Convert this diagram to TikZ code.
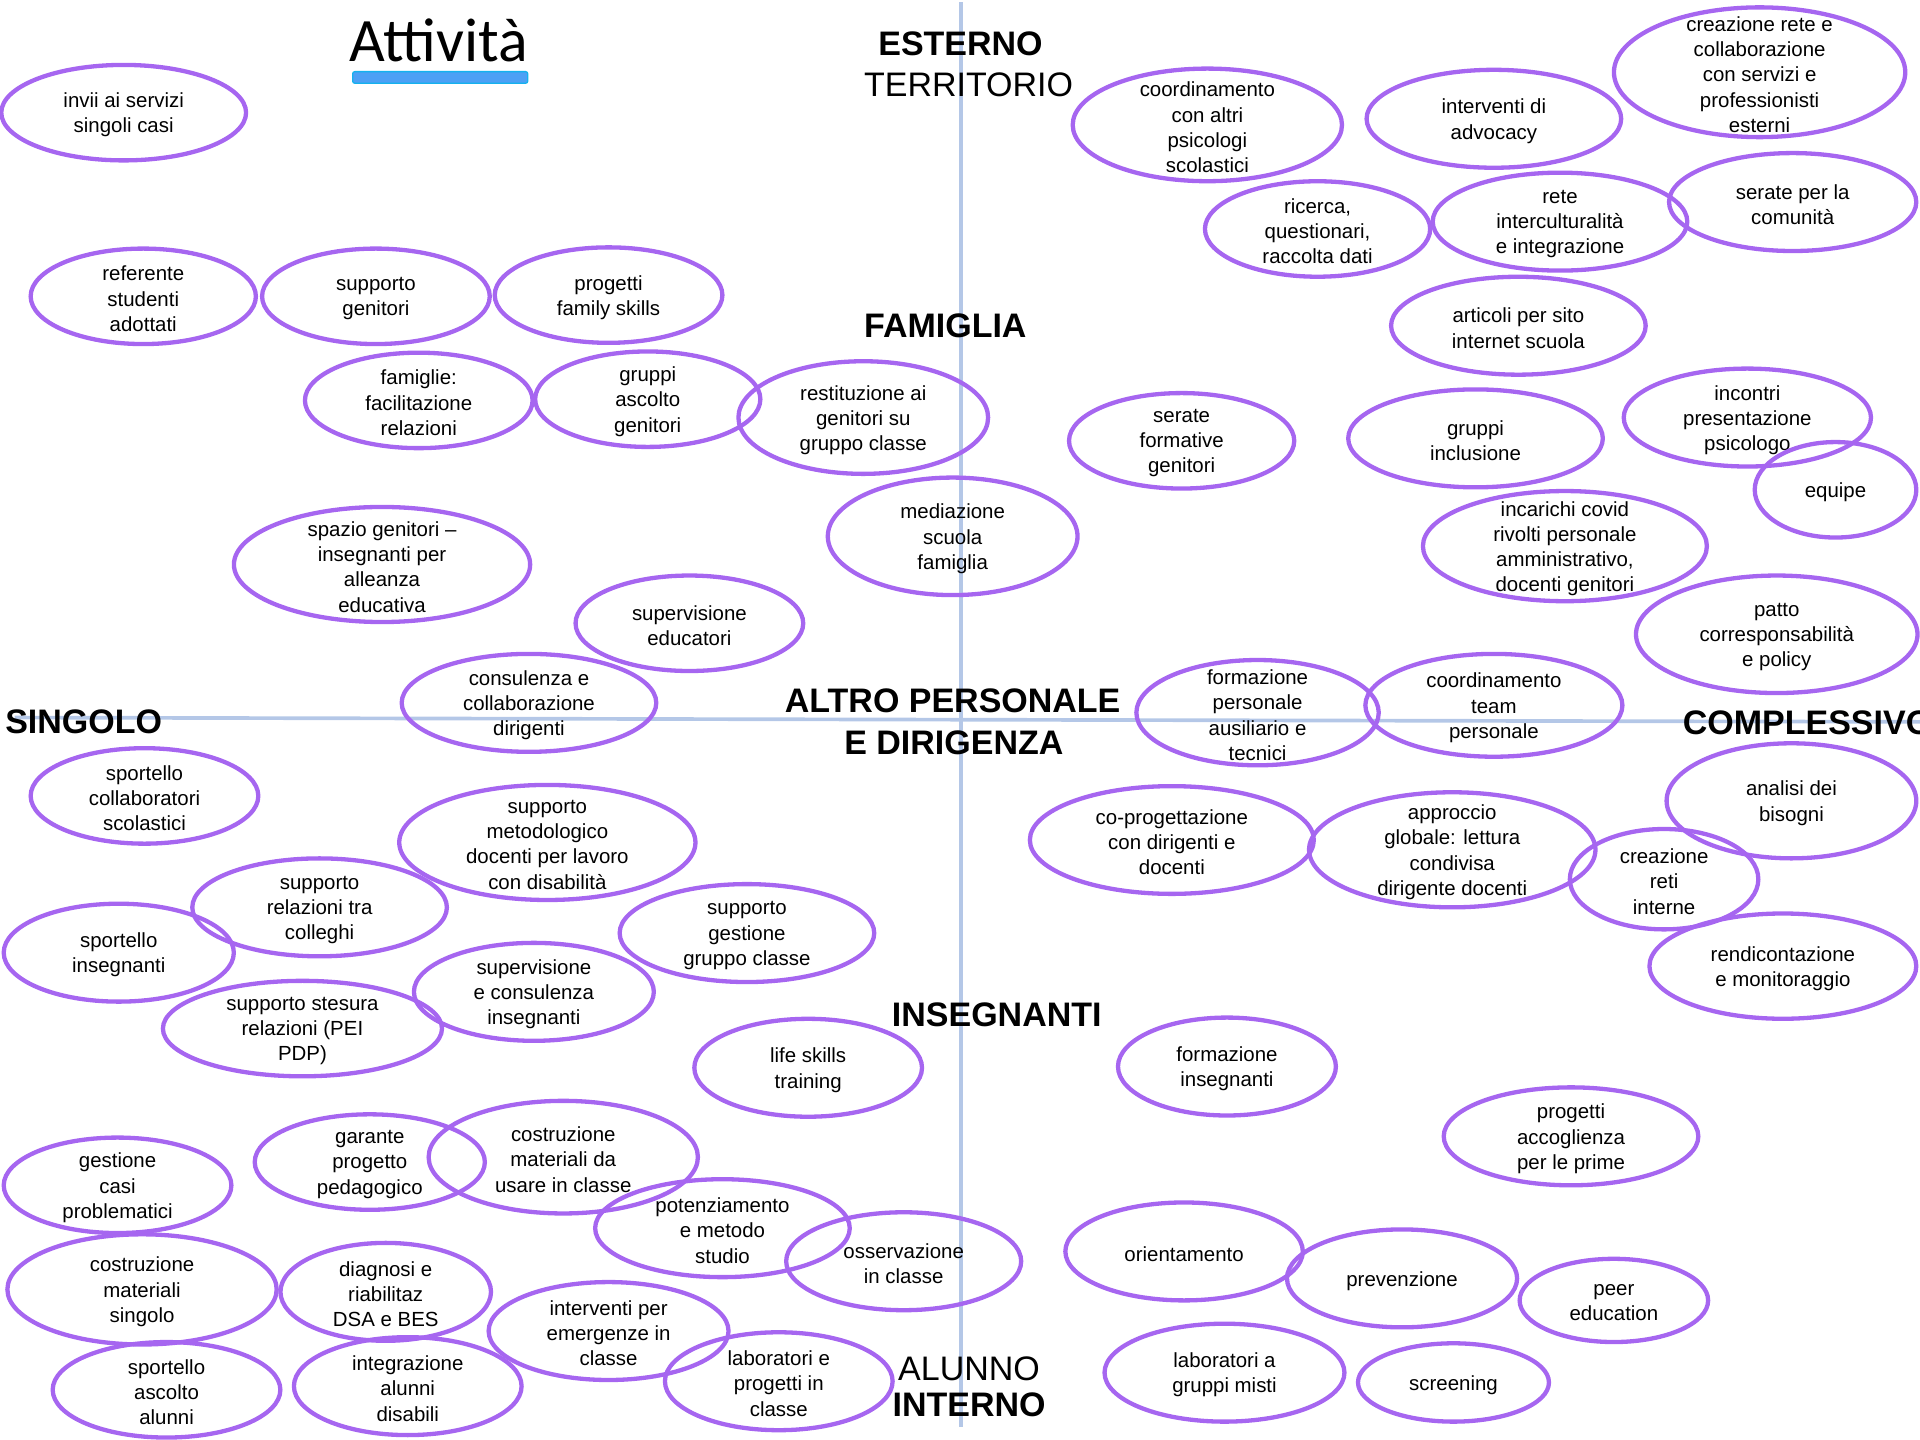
\documentclass[tikz,border=0pt]{standalone}
\usepackage{fontspec}
\setmainfont{Liberation Sans}
\newfontfamily\titlefont{Carlito}
\usetikzlibrary{shapes.geometric}
\definecolor{ellc}{RGB}{166,102,240}
\definecolor{axisc}{RGB}{180,199,231}
\definecolor{barfill}{RGB}{77,160,245}
\definecolor{barline}{RGB}{20,178,238}
\tikzset{
  ell/.style={draw=ellc, line width=2pt, ellipse, inner sep=0pt},
  lbl/.style={align=center, font=\fontsize{9.5}{11.7}\selectfont, inner sep=0pt},
  hdr/.style={font=\fontsize{15.8}{19}\selectfont\bfseries, inner sep=0pt, anchor=base},
  hdrr/.style={font=\fontsize{15.8}{19}\selectfont, inner sep=0pt, anchor=base},
  axisline/.style={draw=axisc, line width=0.06cm}
}
\newcommand\Ell[6]{%
  \node[ell, minimum width=#4*0.04cm, minimum height=#5*0.04cm] (#1) at (#2,#3) {};
  \node[lbl] (#1t) at ([yshift=-0.04cm]#1.center) {#6};}
\begin{document}
\begin{tikzpicture}[x=0.02cm, y=-0.02cm]
\useasboundingbox (0,0) rectangle (1568,1176);
\clip (0,0) rectangle (1568,1176);
% axes
\coordinate (vt) at (785,2);
\coordinate (vb) at (785,1165);
\coordinate (hl) at (12,586);
\coordinate (hr) at (1568,589.5);
\draw[axisline] (vt) -- (vb);
\draw[axisline] (hl) -- (hr);
% title
\node[font=\titlefont\fontsize{28.7}{34}\selectfont, anchor=base, inner sep=0pt] (title) at (358,50.5) {Attività};
\node[draw=barline, fill=barfill, rounded corners=1pt, line width=0.6pt, inner sep=0pt,
      minimum width=143*0.02cm, minimum height=9.5*0.02cm] (bar) at (359.5,63.25) {};
% headers
\node[hdr] (esterno) at (784.4,45) {ESTERNO};
\node[hdrr] (territorio) at (791,79) {TERRITORIO};
\node[hdr] (famiglia) at (772,276) {FAMIGLIA};
\node[hdr] (altro) at (778,582) {ALTRO PERSONALE};
\node[hdr] (edir) at (779,616.5) {E DIRIGENZA};
\node[hdr, anchor=base west] (singolo) at (4,599) {SINGOLO};
\node[hdr, anchor=base west] (compl) at (1374,600) {COMPLESSIVO};
\node[hdr] (insegn) at (814,838) {INSEGNANTI};
\node[hdrr] (alunno) at (791.4,1127.5) {ALUNNO};
\node[hdr] (interno) at (791.4,1157) {INTERNO};
% ellipses
\Ell{e1}{101}{92}{100}{39}{invii ai servizi\\singoli casi}
\Ell{e2}{117}{242}{92}{39}{referente\\studenti\\adottati}
\Ell{e3}{307}{242}{93}{39}{supporto\\genitori}
\Ell{e4}{497}{241}{93}{39}{progetti\\family skills}
\Ell{e5}{342}{327}{93}{39}{famiglie:\\facilitazione\\relazioni}
\Ell{e6}{529}{326}{92}{39}{gruppi\\ascolto\\genitori}
\Ell{e7}{705}{341}{102}{46}{restituzione ai\\genitori su\\gruppo classe}
\Ell{e8}{312}{461}{121}{47}{spazio genitori –\\insegnanti per\\alleanza\\educativa}
\Ell{e9}{778}{438}{102}{48}{mediazione\\scuola\\famiglia}
\Ell{e10}{563}{509}{93}{39}{supervisione\\educatori}
\Ell{e11}{432}{574}{104}{40}{consulenza e\\collaborazione\\dirigenti}
\Ell{e12}{986}{102}{110}{46}{coordinamento\\con altri\\psicologi\\scolastici}
\Ell{e13}{1220}{97}{104}{40}{interventi di\\advocacy}
\Ell{e14}{1437}{59}{119}{53}{creazione rete e\\collaborazione\\con servizi e\\professionisti\\esterni}
\Ell{e15}{1076}{187}{92}{39}{ricerca,\\questionari,\\raccolta dati}
\Ell{e16}{1274}{181}{104}{40}{rete\\interculturalità\\e integrazione}
\Ell{e17}{1464}{165}{101}{40}{serate per la\\comunità}
\Ell{e18}{1240}{266}{104}{40}{articoli per sito\\internet scuola}
\Ell{e19}{965}{360}{92}{39}{serate\\formative\\genitori}
\Ell{e20}{1205}{358}{104}{40}{gruppi\\inclusione}
\Ell{e21}{1427}{341}{101}{40}{incontri\\presentazione\\psicologo}
\Ell{e22}{1499}{400}{66}{39}{equipe}
\Ell{e23}{1278}{446}{116}{45}{incarichi covid\\rivolti personale\\amministrativo,\\docenti genitori}
\Ell{e24}{1451}{518}{115}{48}{patto\\corresponsabilità\\e policy}
\Ell{e25}{1027}{582}{99}{43}{formazione\\personale\\ausiliario e\\tecnici}
\Ell{e26}{1220}{576}{105}{42}{coordinamento\\team\\personale}
\Ell{e27}{118}{650}{93}{39}{sportello\\collaboratori\\scolastici}
\Ell{e28}{447}{688}{121}{47}{supporto\\metodologico\\docenti per lavoro\\con disabilità}
\Ell{e29}{261}{741}{104}{40}{supporto\\relazioni tra\\colleghi}
\Ell{e30}{97}{778}{94}{40}{sportello\\insegnanti}
\Ell{e31}{610}{762}{104}{40}{supporto\\gestione\\gruppo classe}
\Ell{e32}{436}{810}{98}{40}{supervisione\\e consulenza\\insegnanti}
\Ell{e33}{247}{840}{114}{39}{supporto stesura\\relazioni (PEI\\PDP)}
\Ell{e34}{660}{872}{93}{40}{life skills\\training}
\Ell{e35}{302}{949}{94}{39}{garante\\progetto\\pedagogico}
\Ell{e36}{460}{945}{110}{46}{costruzione\\materiali da\\usare in classe}
\Ell{e37}{96}{968}{93}{39}{gestione\\casi\\problematici}
\Ell{e38}{590}{1003}{104}{40}{potenziamento\\e metodo\\studio}
\Ell{e39}{738}{1030}{96}{40}{osservazione\\in classe}
\Ell{e40}{116}{1053}{110}{45}{costruzione\\materiali\\singolo}
\Ell{e41}{315}{1055}{86}{40}{diagnosi e\\riabilitaz\\DSA e BES}
\Ell{e42}{497}{1087}{98}{40}{interventi per\\emergenze in\\classe}
\Ell{e43}{136}{1135}{93}{39}{sportello\\ascolto\\alunni}
\Ell{e44}{333}{1132}{93}{40}{integrazione\\alunni\\disabili}
\Ell{e45}{636}{1128}{93}{40}{laboratori e\\progetti in\\classe}
\Ell{e46}{957}{686}{116}{44}{co-progettazione\\con dirigenti e\\docenti}
\Ell{e47}{1186}{694}{117}{47}{approccio\\globale: lettura\\condivisa\\dirigente docenti}
\Ell{e48}{1463}{654}{102}{47}{analisi dei\\bisogni}
\Ell{e49}{1359}{718}{77}{41}{creazione\\reti\\interne}
\Ell{e50}{1456}{789}{109}{43}{rendicontazione\\e monitoraggio}
\Ell{e51}{1002}{871}{89}{40}{formazione\\insegnanti}
\Ell{e52}{1283}{928}{104}{40}{progetti\\accoglienza\\per le prime}
\Ell{e53}{967}{1022}{97}{40}{orientamento}
\Ell{e54}{1145}{1044}{94}{40}{prevenzione}
\Ell{e55}{1318}{1062}{77}{34}{peer\\education}
\Ell{e56}{1000}{1121}{98}{40}{laboratori a\\gruppi misti}
\Ell{e57}{1187}{1129}{78}{32}{screening}
\end{tikzpicture}
\end{document}
